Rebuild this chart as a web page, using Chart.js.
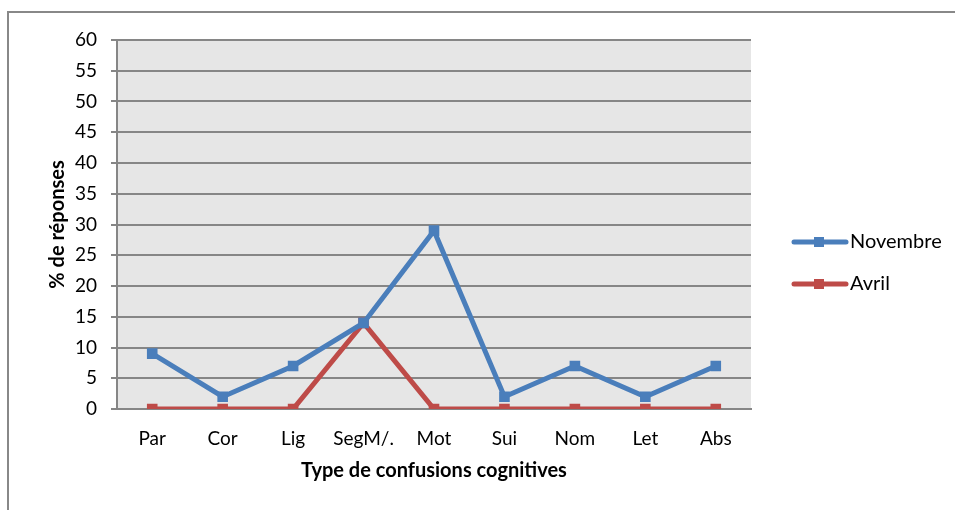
<!DOCTYPE html>
<html>
<head>
<meta charset="utf-8">
<script src="https://cdn.jsdelivr.net/npm/chart.js@4"></script>
<style>
  html, body { margin: 0; padding: 0; background: #fff; overflow: hidden; }
  #wrap { position: relative; width: 955px; height: 510px; }
  #frame { position: absolute; left: 7px; top: 11px; width: 1000px; height: 600px;
           border-left: 2px solid #888; border-top: 2px solid #888; }
  canvas { position: absolute; left: 0; top: 0; }
</style>
</head>
<body>
<div id="wrap">
  <div id="frame"></div>
  <canvas id="chart" width="955" height="510"></canvas>
</div>
<script>
// categories and series
const categories = ['Par', 'Cor', 'Lig', 'SegM/.', 'Mot', 'Sui', 'Nom', 'Let', 'Abs'];
const novembre = [9, 2, 7, 14, 29, 2, 7, 2, 7];
const avril = [0, 0, 0, 14, 0, 0, 0, 0, 0];
const yTicks = [0, 5, 10, 15, 20, 25, 30, 35, 40, 45, 50, 55, 60];

const FONT = 'Lato, "Open Sans", sans-serif';
const BLUE = '#4A7EBB';
const RED = '#BE4B48';
const GRID = '#868686';

// plot area background
const plotBg = {
  id: 'plotBg',
  beforeDraw(chart) {
    const { ctx, chartArea: a } = chart;
    ctx.save();
    ctx.fillStyle = '#E6E6E6';
    ctx.fillRect(a.left, a.top, a.right - a.left, a.bottom - a.top);
    ctx.restore();
  }
};

// legend on the right, Excel style
const sideLegend = {
  id: 'sideLegend',
  afterDraw(chart) {
    const { ctx } = chart;
    const rows = [242, 284];
    chart.data.datasets.forEach((ds, i) => {
      const y = rows[i];
      ctx.save();
      ctx.strokeStyle = ds.borderColor;
      ctx.lineWidth = 5;
      ctx.lineCap = 'round';
      ctx.beginPath();
      ctx.moveTo(794, y);
      ctx.lineTo(846, y);
      ctx.stroke();
      ctx.fillStyle = ds.borderColor;
      ctx.fillRect(814, y - 5, 10, 10);
      ctx.fillStyle = '#000';
      ctx.font = '20px ' + FONT;
      ctx.textBaseline = 'middle';
      ctx.fillText(ds.label, 850, y);
      ctx.restore();
    });
  }
};

new Chart(document.getElementById('chart'), {
  type: 'line',
  data: {
    labels: categories,
    datasets: [
      {
        label: 'Novembre',
        data: novembre,
        borderColor: BLUE,
        backgroundColor: BLUE,
        borderWidth: 5,
        pointStyle: 'rect',
        pointRadius: 7.5,
        pointBorderWidth: 0,
        tension: 0
      },
      {
        label: 'Avril',
        data: avril,
        borderColor: RED,
        backgroundColor: RED,
        borderWidth: 5,
        pointStyle: 'rect',
        pointRadius: 7.5,
        pointBorderWidth: 0,
        tension: 0
      }
    ]
  },
  options: {
    responsive: false,
    animation: false,
    layout: { padding: { top: 40, right: 204, left: 40, bottom: 0 } },
    plugins: { legend: { display: false }, tooltip: { enabled: false } },
    scales: {
      x: {
        offset: true,
        grid: { display: false, drawTicks: false },
        border: { color: GRID, width: 2 },
        ticks: { color: '#000', font: { family: FONT, size: 19 }, padding: 18, maxRotation: 0 },
        title: { display: true, text: 'Type de confusions cognitives', color: '#000',
                 font: { family: FONT, size: 20, weight: 'bold' }, padding: { top: 0, bottom: 27 } },
        afterFit(s) { s.height = 101; }
      },
      y: {
        min: 0,
        max: 60,
        afterBuildTicks(s) { s.ticks = yTicks.map(v => ({ value: v })); },
        grid: { color: GRID, lineWidth: 2, tickLength: 6, tickColor: GRID },
        border: { color: GRID, width: 2 },
        ticks: { color: '#000', font: { family: FONT, size: 19 }, padding: 14 },
        title: { display: true, text: '% de réponses', color: '#000',
                 font: { family: FONT, size: 20, weight: 'bold' }, padding: { top: 6, bottom: 0 } },
        afterFit(s) { s.width = 77; }
      }
    }
  },
  plugins: [plotBg, sideLegend]
});
</script>
</body>
</html>
